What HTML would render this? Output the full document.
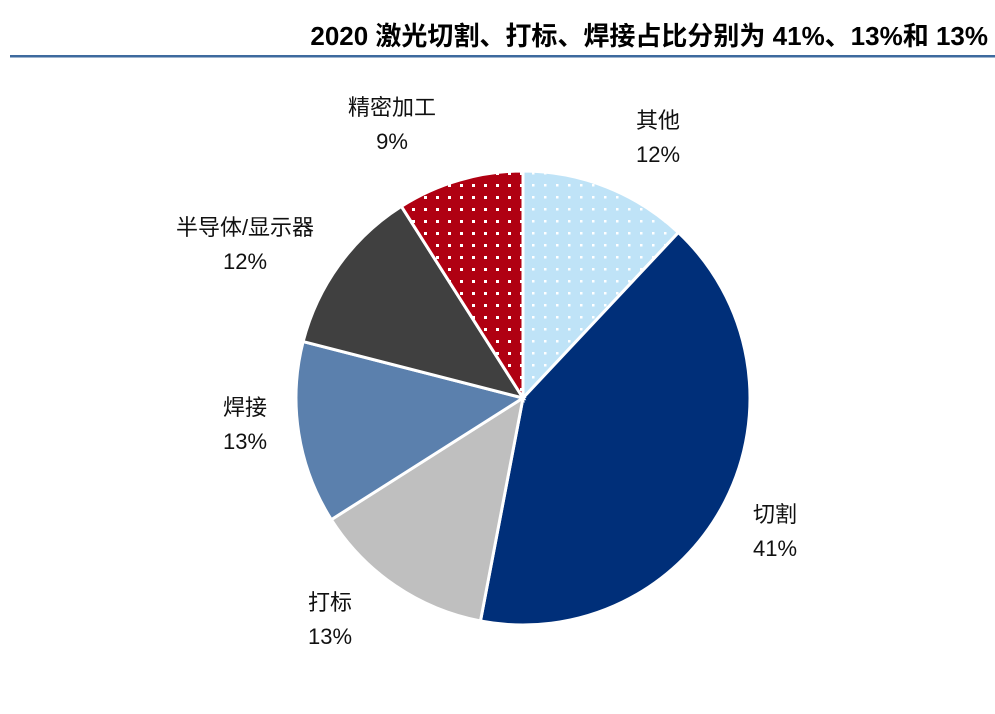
<!DOCTYPE html>
<html><head><meta charset="utf-8"><style>
body{margin:0;background:#fff;width:995px;height:709px;overflow:hidden;font-family:"Liberation Sans","Noto Sans CJK SC",sans-serif}
</style></head><body>
<svg width="995" height="709" viewBox="0 0 995 709">
<defs>
<pattern id="dotRed" width="12" height="12" patternUnits="userSpaceOnUse"><rect width="12" height="12" fill="#b00012"/><rect x="4" y="4" width="3" height="3" fill="#fff"/></pattern>
<pattern id="dotBlue" width="12" height="12" patternUnits="userSpaceOnUse"><rect width="12" height="12" fill="#bfe3f7"/><rect x="4" y="4" width="2.5" height="2.5" fill="#fff"/></pattern>
</defs>
<text x="988" y="45" text-anchor="end" font-size="26" font-weight="bold" fill="#000">2020 激光切割、打标、焊接占比分别为 41%、13%和 13%</text>
<rect x="10" y="55" width="985" height="2.5" fill="#3d6a9e"/>
<g id="slices"></g>
<g id="labels"></g>
</svg>
<script>
const categories=["其他","切割","打标","焊接","半导体/显示器","精密加工"];
const values=[12,41,13,13,12,9];
const valueLabels=["12%","41%","13%","13%","12%","9%"];
const fills=["url(#dotBlue)","#002f79","#bfbfbf","#5b80ad","#404040","url(#dotRed)"];
const labelPos=[[658,128],[775,522],[330,610],[245,415],[245,235],[392,115]];
const cx=523,cy=398,r=227;
const total=values.reduce((a,b)=>a+b,0);
const ns="http://www.w3.org/2000/svg";
const gS=document.getElementById('slices'),gL=document.getElementById('labels');
function pt(a){return [cx+r*Math.sin(a),cy-r*Math.cos(a)];}
let acc=0;
values.forEach((v,i)=>{
  const a0=acc/total*2*Math.PI;acc+=v;const a1=acc/total*2*Math.PI;
  const p0=pt(a0),p1=pt(a1);
  const p=document.createElementNS(ns,'path');
  p.setAttribute('d',`M${cx},${cy}L${p0[0]},${p0[1]}A${r},${r} 0 ${a1-a0>Math.PI?1:0} 1 ${p1[0]},${p1[1]}Z`);
  p.setAttribute('fill',fills[i]);p.setAttribute('stroke','#fff');p.setAttribute('stroke-width','3');
  
  
  gS.appendChild(p);
  const t=document.createElementNS(ns,'text');
  t.setAttribute('x',labelPos[i][0]);t.setAttribute('y',labelPos[i][1]);
  t.setAttribute('text-anchor','middle');t.setAttribute('font-size','22');t.setAttribute('fill','#111');
  
  
  const s1=document.createElementNS(ns,'tspan');s1.setAttribute('x',labelPos[i][0]);s1.textContent=categories[i];
  const s2=document.createElementNS(ns,'tspan');s2.setAttribute('x',labelPos[i][0]);s2.setAttribute('dy','34');s2.textContent=valueLabels[i];
  t.appendChild(s1);t.appendChild(s2);gL.appendChild(t);
});
</script>
</body></html>
